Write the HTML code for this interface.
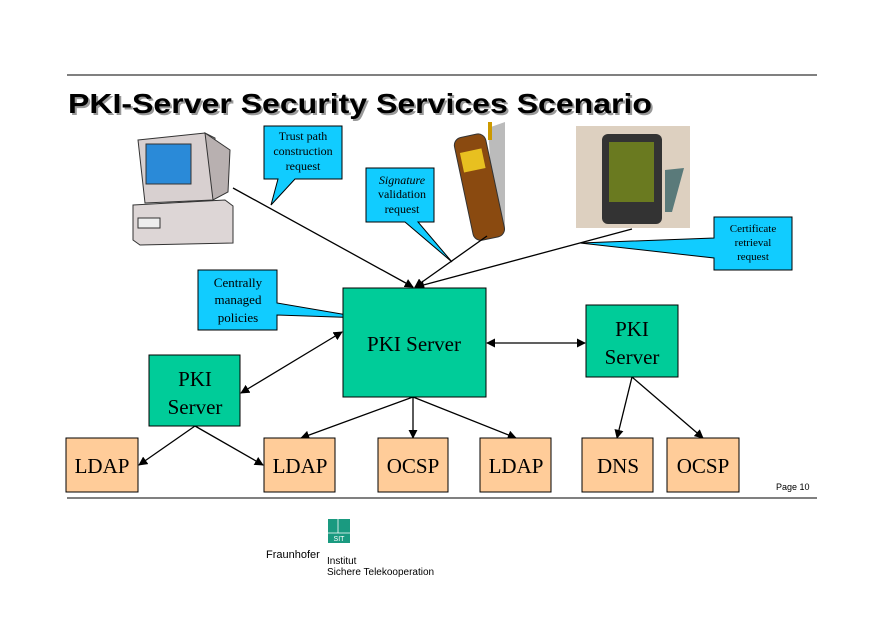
<!DOCTYPE html>
<html><head><meta charset="utf-8"><style>
html,body{margin:0;padding:0;background:#fff;}
svg{display:block;}
.s{font-family:"Liberation Serif",serif;}
.a{font-family:"Liberation Sans",sans-serif;}
</style></head><body>
<svg width="891" height="630" viewBox="0 0 891 630" xmlns="http://www.w3.org/2000/svg">
<defs>
<marker id="ah" viewBox="0 0 10 10" refX="9" refY="5" markerWidth="7" markerHeight="7" orient="auto-start-reverse"><path d="M0,0 L10,5 L0,10 z" fill="#000"/></marker>
</defs>
<line x1="67" y1="75" x2="817" y2="75" stroke="#000" stroke-width="1"/>
<line x1="67" y1="498" x2="817" y2="498" stroke="#000" stroke-width="1"/>
<text x="70" y="115" class="a" font-size="28" font-weight="bold" fill="#999" textLength="584" lengthAdjust="spacingAndGlyphs">PKI-Server Security Services Scenario</text>
<text x="68" y="113" class="a" font-size="28" font-weight="bold" fill="#000" textLength="584" lengthAdjust="spacingAndGlyphs">PKI-Server Security Services Scenario</text>

<!-- computer -->
<g stroke="#333" stroke-width="1">
<polygon points="138,140 205,133 215,138 213,200 145,203" fill="#d8d0d0"/>
<polygon points="205,133 230,150 228,192 213,200" fill="#b8b0b0"/>
<rect x="146" y="144" width="45" height="40" fill="#2a8ad8"/>
<polygon points="133,205 225,200 233,206 233,243 140,245 133,240" fill="#ddd6d6"/>
<rect x="138" y="218" width="22" height="10" fill="#eee"/>
</g>
<!-- phone -->
<g>
<polygon points="488,128 505,122 505,230 495,235" fill="#bbb"/>
<rect x="488" y="122" width="4" height="18" fill="#cc9900"/>
<rect x="464" y="135" width="32" height="105" rx="8" fill="#8a4a10" stroke="#333" transform="rotate(-12 478 190)"/>
<rect x="468" y="150" width="22" height="20" fill="#e8c020" transform="rotate(-12 478 190)"/>
</g>
<!-- PDA -->
<rect x="576" y="126" width="114" height="102" fill="#ddd0c0"/>
<polygon points="665,170 684,168 672,212 665,212" fill="#5a7a7a"/>
<rect x="602" y="134" width="60" height="90" rx="6" fill="#333"/>
<rect x="609" y="142" width="45" height="60" fill="#6a7a20"/>

<!-- callouts -->
<g fill="#11ccff" stroke="#000" stroke-width="1">
<polygon points="264,126 342,126 342,179 295,179 271,205 278,179 264,179"/>
<polygon points="366,168 434,168 434,222 418,222 452,262 405,222 366,222"/>
<polygon points="198,270 277,270 277,303 365,318 277,315 277,330 198,330"/>
<polygon points="714,217 792,217 792,270 714,270 714,258 580,243 714,238"/>
</g>
<g class="s" font-size="12" text-anchor="middle" fill="#000">
<text x="303" y="140">Trust path</text><text x="303" y="155">construction</text><text x="303" y="170">request</text>
<text x="402" y="184" font-style="italic">Signature</text><text x="402" y="198">validation</text><text x="402" y="213">request</text>
<text x="238" y="287" font-size="13">Centrally</text><text x="238" y="304" font-size="13">managed</text><text x="238" y="322" font-size="13">policies</text>
<text x="753" y="232" font-size="11">Certificate</text><text x="753" y="246" font-size="11">retrieval</text><text x="753" y="260" font-size="11">request</text>
</g>

<!-- connectors -->
<g stroke="#000" stroke-width="1.3" fill="none">
<line x1="233" y1="188" x2="413" y2="287" marker-end="url(#ah)"/>
<line x1="487" y1="236" x2="415" y2="287" marker-end="url(#ah)"/>
<line x1="632" y1="229" x2="416" y2="287" marker-end="url(#ah)"/>
<line x1="487" y1="343" x2="585" y2="343" marker-start="url(#ah)" marker-end="url(#ah)"/>
<line x1="342" y1="332" x2="241" y2="393" marker-start="url(#ah)" marker-end="url(#ah)"/>
<line x1="195" y1="426" x2="139" y2="465" marker-end="url(#ah)"/>
<line x1="195" y1="426" x2="263" y2="465" marker-end="url(#ah)"/>
<line x1="413" y1="397" x2="301" y2="438" marker-end="url(#ah)"/>
<line x1="413" y1="397" x2="413" y2="438" marker-end="url(#ah)"/>
<line x1="413" y1="397" x2="516" y2="438" marker-end="url(#ah)"/>
<line x1="632" y1="377" x2="617" y2="438" marker-end="url(#ah)"/>
<line x1="632" y1="377" x2="703" y2="438" marker-end="url(#ah)"/>
</g>

<!-- servers -->
<g fill="#00cc99" stroke="#000" stroke-width="1">
<rect x="343" y="288" width="143" height="109"/>
<rect x="586" y="305" width="92" height="72"/>
<rect x="149" y="355" width="91" height="71"/>
</g>
<g class="s" font-size="21" text-anchor="middle" fill="#000">
<text x="414" y="351">PKI Server</text>
<text x="632" y="336">PKI</text><text x="632" y="364">Server</text>
<text x="195" y="386">PKI</text><text x="195" y="414">Server</text>
</g>
<g fill="#ffcc99" stroke="#000" stroke-width="1">
<rect x="66" y="438" width="72" height="54"/>
<rect x="264" y="438" width="71" height="54"/>
<rect x="378" y="438" width="70" height="54"/>
<rect x="480" y="438" width="71" height="54"/>
<rect x="582" y="438" width="71" height="54"/>
<rect x="667" y="438" width="72" height="54"/>
</g>
<g class="s" font-size="21" text-anchor="middle" fill="#000">
<text x="102" y="473">LDAP</text><text x="300" y="473">LDAP</text><text x="413" y="473">OCSP</text>
<text x="516" y="473">LDAP</text><text x="618" y="473">DNS</text><text x="703" y="473">OCSP</text>
</g>
<text x="776" y="490" class="a" font-size="9" fill="#000">Page 10</text>

<!-- logo -->
<rect x="328" y="519" width="22" height="24" fill="#1a9a80"/>
<line x1="338" y1="519" x2="338" y2="533" stroke="#fff" stroke-width="0.8"/>
<line x1="328" y1="533" x2="350" y2="533" stroke="#fff" stroke-width="0.8"/>
<text x="339" y="541" class="a" font-size="7" fill="#fff" text-anchor="middle">SIT</text>
<text x="266" y="558" class="a" font-size="11" fill="#000">Fraunhofer</text>
<text x="327" y="564" class="a" font-size="10" fill="#000">Institut</text>
<text x="327" y="575" class="a" font-size="10" fill="#000">Sichere Telekooperation</text>
</svg>
</body></html>
